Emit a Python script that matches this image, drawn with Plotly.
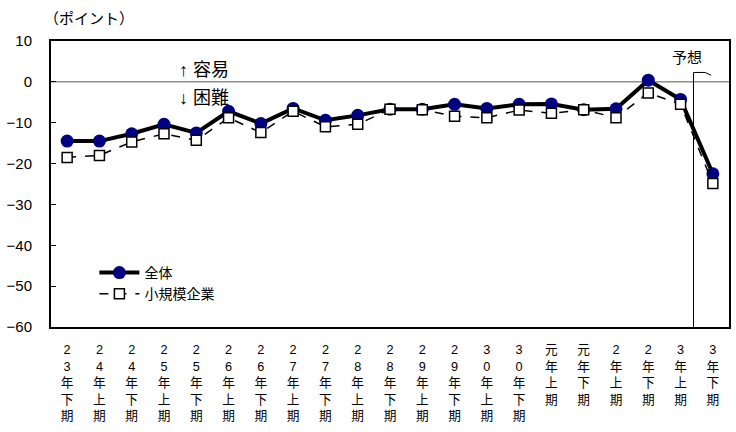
import plotly.graph_objects as go

categories = ["23年下期", "24年上期", "24年下期", "25年上期", "25年下期", "26年上期", "26年下期",
              "27年上期", "27年下期", "28年上期", "28年下期", "29年上期", "29年下期", "30年上期",
              "30年下期", "元年上期", "元年下期", "2年上期", "2年下期", "3年上期", "3年下期"]
zentai = [-14.5, -14.5, -12.7, -10.4, -12.5, -7.2, -10.2, -6.5, -9.4, -8.2, -6.7, -6.7, -5.5,
          -6.5, -5.5, -5.4, -6.8, -6.6, 0.4, -4.3, -22.5]
shokibo = [-18.5, -18.0, -14.7, -12.7, -14.3, -8.8, -12.4, -7.2, -11.0, -10.4, -6.7, -6.8, -8.4,
           -8.8, -6.9, -7.7, -6.8, -8.8, -2.7, -5.5, -24.9]
tick_labels = ["<br>".join(list(c)) for c in categories]
y_ticks = [10, 0, -10, -20, -30, -40, -50, -60]

FONT = "Liberation Sans, Noto Sans CJK JP"
xs = list(range(len(categories)))

fig = go.Figure()
fig.add_trace(go.Scatter(
    x=xs, y=zentai, name="全体", mode="lines+markers",
    line=dict(color="black", width=4),
    marker=dict(symbol="circle", size=13, color="#000080", line=dict(width=0)),
))
fig.add_trace(go.Scatter(
    x=xs, y=shokibo, name="小規模企業", mode="lines+markers",
    line=dict(color="black", width=1.5, dash="dash"),
    marker=dict(symbol="square", size=10, color="white", line=dict(color="black", width=1.5)),
))

# zero line
fig.add_shape(type="line", xref="paper", yref="y", x0=0, x1=1, y0=0, y1=0,
              line=dict(color="#555555", width=1), layer="below")
# forecast divider with callout
fx = 19.4
fig.add_shape(type="line", xref="x", yref="y", x0=fx, x1=fx, y0=-60, y1=2.3,
              line=dict(color="black", width=1))
fig.add_shape(type="path", xref="x", yref="y",
              path=f"M {fx},2.3 L {fx+0.36},2.3 L {fx+0.55},1.6",
              line=dict(color="black", width=1))

fig.add_annotation(text="（ポイント）", xref="paper", yref="paper", x=-0.014, y=1.0,
                   yshift=23, xanchor="left", yanchor="middle", showarrow=False,
                   font=dict(family=FONT, size=15, color="black"))
fig.add_annotation(text="↑ 容易", xref="x", yref="y", x=3.4, y=3.0, xanchor="left",
                   yanchor="middle", showarrow=False,
                   font=dict(family=FONT, size=18, color="black"))
fig.add_annotation(text="↓ 困難", xref="x", yref="y", x=3.4, y=-3.9, xanchor="left",
                   yanchor="middle", showarrow=False,
                   font=dict(family=FONT, size=18, color="black"))
fig.add_annotation(text="予想", xref="x", yref="y", x=19.2, y=6.0, xanchor="center",
                   yanchor="middle", showarrow=False,
                   font=dict(family=FONT, size=15, color="black"))

fig.update_layout(
    width=736, height=432,
    margin=dict(l=51, r=7, t=41, b=105),
    paper_bgcolor="white", plot_bgcolor="white",
    font=dict(family=FONT, color="black"),
    legend=dict(x=0.064, y=0.245, xanchor="left", yanchor="top",
                bgcolor="rgba(0,0,0,0)", font=dict(family=FONT, size=14),
                tracegroupgap=0, itemwidth=40),
    showlegend=True,
)
fig.update_xaxes(
    tickmode="array", tickvals=xs, ticktext=tick_labels,
    range=[-0.5, len(categories) - 0.5],
    showgrid=False, zeroline=False, automargin=False,
    showline=True, linecolor="black", linewidth=2, mirror=True,
    ticks="", ticklabelstandoff=10,
    tickfont=dict(family=FONT, size=12.7, color="black"),
)
fig.update_yaxes(
    range=[-60, 10], tickvals=y_ticks,
    showgrid=False, zeroline=False, automargin=False,
    showline=True, linecolor="black", linewidth=2, mirror=True,
    ticks="inside", ticklen=5, tickcolor="black", ticklabelstandoff=14,
    tickfont=dict(family=FONT, size=15, color="black"),
)

fig.write_html("out.html", config={"displayModeBar": False},
               post_script="document.body.style.margin='0';document.body.style.padding='0';")
